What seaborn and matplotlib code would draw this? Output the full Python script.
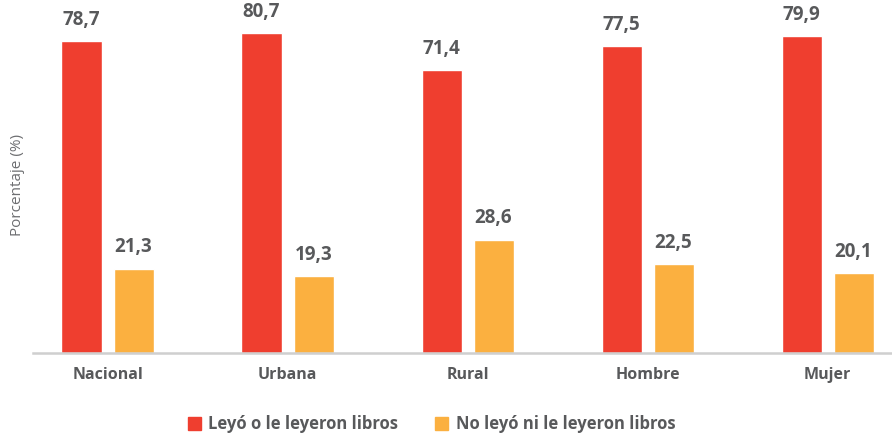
import matplotlib
matplotlib.use("Agg")
import matplotlib.pyplot as plt
import seaborn as sns
import pandas as pd
from matplotlib.patches import Patch

categories = ["Nacional", "Urbana", "Rural", "Hombre", "Mujer"]
series_names = ["Leyó o le leyeron libros", "No leyó ni le leyeron libros"]
leyo = [78.7, 80.7, 71.4, 77.5, 79.9]
no_leyo = [21.3, 19.3, 28.6, 22.5, 20.1]
colors = ["#EF3E2F", "#FBB040"]

df = pd.DataFrame({
    "cat": categories * 2,
    "serie": [series_names[0]] * 5 + [series_names[1]] * 5,
    "val": leyo + no_leyo,
})

sns.set_theme(style="white")
plt.rcParams["font.family"] = ["Open Sans", "DejaVu Sans"]
txt = "#58595B"

fig = plt.figure(figsize=(8.92, 4.38), dpi=100)
ax = fig.add_axes([33 / 892, 1 - 353 / 438, (892 - 33) / 892, 353 / 438])

sns.barplot(data=df, x="cat", y="val", hue="serie", order=categories,
            hue_order=series_names, palette=colors, width=0.578, gap=0.23,
            legend=False, ax=ax, saturation=1)

for cont in ax.containers:
    ax.bar_label(cont, labels=[f"{v:.1f}".replace(".", ",") for v in cont.datavalues],
                 padding=8, fontsize=13.5, fontweight="bold", color=txt)

ax.set_ylim(0, 89)
ax.set_xlim(-0.414, 4.358)
ax.set_yticks([])
ax.set_xlabel("")
ax.set_ylabel("Porcentaje (%)", fontsize=11, color="#6D6E71")
ax.yaxis.set_label_coords(-0.009, 0.476)
for s in ["top", "right", "left"]:
    ax.spines[s].set_visible(False)
ax.spines["bottom"].set_color("#CFCFCF")
ax.spines["bottom"].set_linewidth(1.8)
ax.tick_params(axis="x", length=0, pad=10)
for t in ax.get_xticklabels():
    t.set_fontsize(11.5)
    t.set_fontweight("bold")
    t.set_color(txt)

handles = [Patch(color=c) for c in colors]
fig.legend(handles, series_names, loc="center", bbox_to_anchor=(431.5 / 892, 1 - 424 / 438),
           ncol=2, frameon=False, handlelength=0.8, handleheight=0.8,
           handletextpad=0.45, columnspacing=2.2,
           prop={"family": "Open Sans", "weight": "bold", "size": 12},
           labelcolor=txt)

fig.savefig("out.png", dpi=100)
